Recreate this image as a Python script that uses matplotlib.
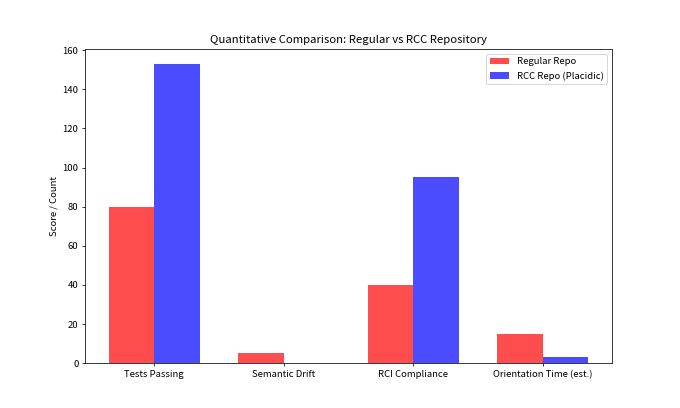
import numpy as np
import matplotlib
matplotlib.use('Agg')
import matplotlib.pyplot as plt

plt.rcParams['font.family'] = ['Noto Sans CJK SC', 'DejaVu Sans']

categories = ['Tests Passing', 'Semantic Drift', 'RCI Compliance', 'Orientation Time (est.)']
regular = [80, 5, 40, 15]
rcc = [153, 0, 95, 3]

x = np.arange(len(categories))
width = 0.35

fig, ax = plt.subplots(figsize=(10, 6), dpi=68)
ax.bar(x - width/2, regular, width, label='Regular Repo', color='red', alpha=0.7)
ax.bar(x + width/2, rcc, width, label='RCC Repo (Placidic)', color='blue', alpha=0.7)

ax.set_ylabel('Score / Count')
ax.set_title('Quantitative Comparison: Regular vs RCC Repository')
ax.set_xticks(x)
ax.set_xticklabels(categories)
ax.legend()

fig.savefig('out.png', dpi=68)
